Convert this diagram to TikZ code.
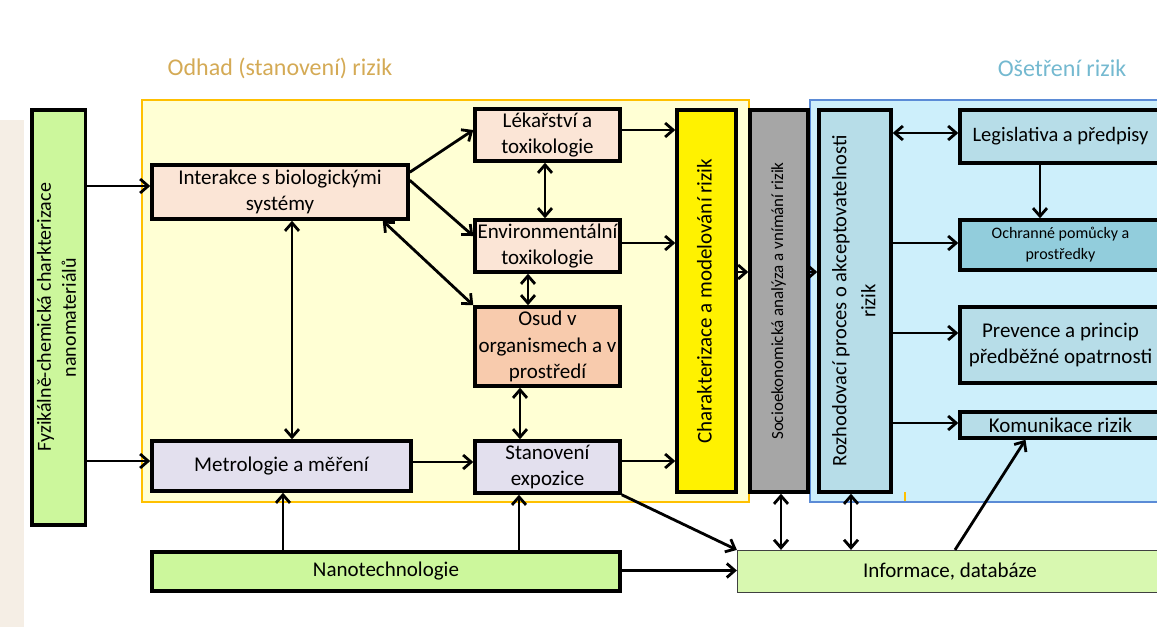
\documentclass[tikz,border=0pt]{standalone}
\usepackage{fontspec}
\usepackage{graphicx}
\setmainfont{Carlito}
\usetikzlibrary{arrows.meta}

\definecolor{regyellow}{HTML}{FFFFD4}
\definecolor{regorange}{HTML}{FFC000}
\definecolor{regblue}{HTML}{CDEFFB}
\definecolor{regblueline}{HTML}{5B8BD6}
\definecolor{pinkbox}{HTML}{FBE5D6}
\definecolor{orangebox}{HTML}{F8CBAD}
\definecolor{lilacbox}{HTML}{E3E0EE}
\definecolor{greenbox}{HTML}{CCF79C}
\definecolor{lightgreen}{HTML}{D8F8B0}
\definecolor{greybox}{HTML}{A6A6A6}
\definecolor{bluebox}{HTML}{B7DDE8}
\definecolor{tealbox}{HTML}{92CDDC}
\definecolor{odhadcol}{HTML}{D4AA55}
\definecolor{osetrcol}{HTML}{74B9D0}
\definecolor{beige}{HTML}{F5EEE5}

\newcommand{\vtext}[1]{\rotatebox{90}{\begin{tabular}{@{}c@{}}#1\end{tabular}}}

\begin{document}
\begin{tikzpicture}[x=1pt, y=-1pt,
    box/.style={draw, line width=3.5pt, inner sep=1pt, align=center,
      font=\fontsize{21}{26.5}\selectfont},
    title/.style={font=\fontsize{24}{28}\selectfont},
    arr/.style={line width=2.8pt, -{Straight Barb[length=8pt,width=14pt]}},
    darr/.style={line width=2.8pt, {Straight Barb[length=8pt,width=14pt]}-{Straight Barb[length=8pt,width=14pt]}}]
  \useasboundingbox (0,0) rectangle (1157,627);
  \clip (0,0) rectangle (1157,627);
  \fill[beige] (0,120) rectangle (24,627);

  % regions
  \draw[regorange, line width=2pt, fill=regyellow] (142,100) rectangle (749,502);
  \draw[regblueline, line width=1.5pt, fill=regblue] (810,100) rectangle (1175,502);
  \draw[regorange, line width=1.5pt] (905,492) -- (905,501);
  \node (odhad) at (280,68) [title, text=odhadcol] {Odhad (stanovení) rizik};
  \node (osetr) at (1062,68) [title, text=osetrcol] {Ošetření rizik};

  % boxes
  \node (fyz) at (58.5,317.5) [box, fill=greenbox, minimum width=53.5pt, minimum height=415pt, font=\fontsize{20}{25}\selectfont] {\vtext{Fyzikálně-chemická charkterizace\\nanomateriálů}};
  \node (inter) at (280,192) [box, fill=pinkbox, minimum width=256pt, minimum height=54pt] {Interakce s biologickými\\systémy};
  \node (metro) at (281.5,466) [box, fill=lilacbox, minimum width=259pt, minimum height=50pt] {Metrologie a měření};
  \node (lek) at (547.5,135) [box, fill=pinkbox, minimum width=145pt, minimum height=52pt] {Lékařství a\\toxikologie};
  \node (env) at (547.5,246) [box, fill=pinkbox, minimum width=145pt, minimum height=52pt] {Environmentální\\toxikologie};
  \node (osud) at (547.5,346.5) [box, fill=orangebox, minimum width=145pt, minimum height=79pt] {Osud v\\organismech a v\\prostředí};
  \node (expo) at (547.5,467) [box, fill=lilacbox, minimum width=145pt, minimum height=52pt] {Stanovení\\expozice};
  \node (char) at (706.5,301) [box, fill=yellow, minimum width=59pt, minimum height=382pt, font=\fontsize{21}{26}\selectfont] {\vtext{Charakterizace a modelování rizik}};
  \node (socio) at (779,301) [box, fill=greybox, minimum width=58pt, minimum height=382pt, font=\fontsize{17}{20}\selectfont] {\vtext{Socioekonomická analýza a vnímání rizik}};
  \node (rozh) at (855,301) [box, fill=bluebox, minimum width=72pt, minimum height=382pt, font=\fontsize{20.5}{29}\selectfont] {\vtext{Rozhodovací proces o akceptovatelnosti\\rizik}};
  \node (legis) at (1060.5,136.5) [box, fill=bluebox, minimum width=201pt, minimum height=53pt, font=\fontsize{20.5}{26}\selectfont] {Legislativa a předpisy};
  \node (ochr) at (1060.5,245) [box, fill=tealbox, minimum width=201pt, minimum height=50pt, font=\fontsize{16}{21}\selectfont] {Ochranné pomůcky a\\prostředky};
  \node (prev) at (1060.5,345) [box, fill=bluebox, minimum width=201pt, minimum height=76pt] {Prevence a princip\\předběžné opatrnosti};
  \node (komu) at (1060.5,425) [box, fill=bluebox, minimum width=201pt, minimum height=26pt] {Komunikace rizik};
  \node (nano) at (386,571.5) [box, fill=greenbox, minimum width=468pt, minimum height=39pt] {Nanotechnologie};
  \node (info) at (950,571.5) [box, line width=1.2pt, draw=black!75, fill=lightgreen, minimum width=425pt, minimum height=42pt] {Informace, databáze};

  % connectors
  \foreach \a/\b/\s in {fyz/inter/6, fyz/metro/5, metro/expo/5, char/socio/29, socio/rozh/29, rozh/ochr/2, rozh/prev/12, rozh/komu/2, nano/info/1}
    \draw[arr] ([yshift=\s pt]\b.west -| \a.east) -- ([yshift=\s pt]\b.west);
  \foreach \a/\b/\s in {lek/char/5, env/char/3, expo/char/6}
    \draw[arr] ([yshift=\s pt]\a.east) -- ([yshift=\s pt]\a.east -| \b.west);
  \draw[darr] ([yshift=3.5pt]legis.west -| rozh.east) -- ([yshift=3.5pt]legis.west);
  \draw[darr] ([xshift=12pt]inter.south) -- ([xshift=12pt]inter.south |- metro.north);
  \draw[arr] ([yshift=-9pt]inter.north east) -- ([yshift=5pt]lek.west);
  \draw[arr] ([yshift=-17pt]inter.north east) -- ([yshift=10pt]env.west);
  \draw[darr] ([xshift=-27pt]inter.south east) -- (osud.north west);
  \draw[darr] ([xshift=-2.5pt]lek.south) -- ([xshift=-2.5pt]lek.south |- env.north);
  \draw[darr] ([xshift=-19.5pt]env.south) -- ([xshift=-19.5pt]env.south |- osud.north);
  \draw[darr] ([xshift=-27.5pt]osud.south) -- ([xshift=-27.5pt]osud.south |- expo.north);
  \draw[arr] ([xshift=-20.5pt]legis.south) -- ([xshift=-20.5pt]legis.south |- ochr.north);
  \draw[arr] ([xshift=-103pt]nano.north) -- ([xshift=-103pt]nano.north |- metro.south);
  \draw[arr] ([xshift=133pt]nano.north) -- ([xshift=133pt]nano.north |- expo.south);
  \draw[darr] ([xshift=2pt]socio.south) -- ([xshift=2pt]socio.south |- info.north);
  \draw[darr] ([xshift=-4pt]rozh.south) -- ([xshift=-4pt]rozh.south |- info.north);
  \draw[arr] ([xshift=5pt]info.north) -- ([xshift=-35pt]komu.south);
  \draw[arr] (expo.south east) -- (info.north west);
\end{tikzpicture}
\end{document}
